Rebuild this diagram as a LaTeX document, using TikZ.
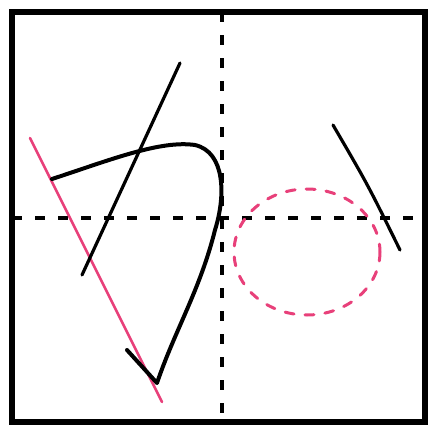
\documentclass[tikz,border=0pt]{standalone}
\usetikzlibrary{calc}
\definecolor{InkPink}{HTML}{E8407A}
\begin{document}
\begin{tikzpicture}[x=1pt, y=-1pt,
  frame/.style={draw=black, line width=5.5pt},
  axis/.style={draw=black, line width=4.5pt, dash pattern=on 10pt off 13pt},
  ink/.style={draw=black, line width=4pt, line cap=round, line join=round},
  thin ink/.style={draw=black, line width=3.2pt, line cap=round},
  pinkline/.style={draw=InkPink, line width=2.6pt, line cap=round},
  pinkdash/.style={draw=InkPink, line width=3pt, line cap=round, dash pattern=on 9pt off 11pt}]
  \useasboundingbox (0,0) rectangle (430,434);
  \coordinate (tl) at (12,12);
  \coordinate (br) at (425,422);
  \coordinate (vtop) at (222,12);
  \coordinate (vbot) at (222,422);
  \coordinate (hleft) at (12,218);
  \coordinate (hright) at (425,218);
  \draw[frame] (tl) rectangle (br);
  \draw[axis] (vtop) -- (vbot);
  \draw[axis] (hleft) -- (hright);
  \draw[pinkdash] (307,252) ellipse [x radius=73, y radius=63];
  \draw[pinkline] (30,138) -- (162,402);
  \draw[thin ink] (180,63) -- (82,275);
  \draw[ink] (52,179) .. controls (110,160) and (160,140) .. (195,145)
    .. controls (225,152) and (226,195) .. (215,230)
    .. controls (200,290) and (175,330) .. (157,383) -- (127,350);
  \draw[thin ink] (333,125) .. controls (368,185) .. (400,250);
\end{tikzpicture}
\end{document}
